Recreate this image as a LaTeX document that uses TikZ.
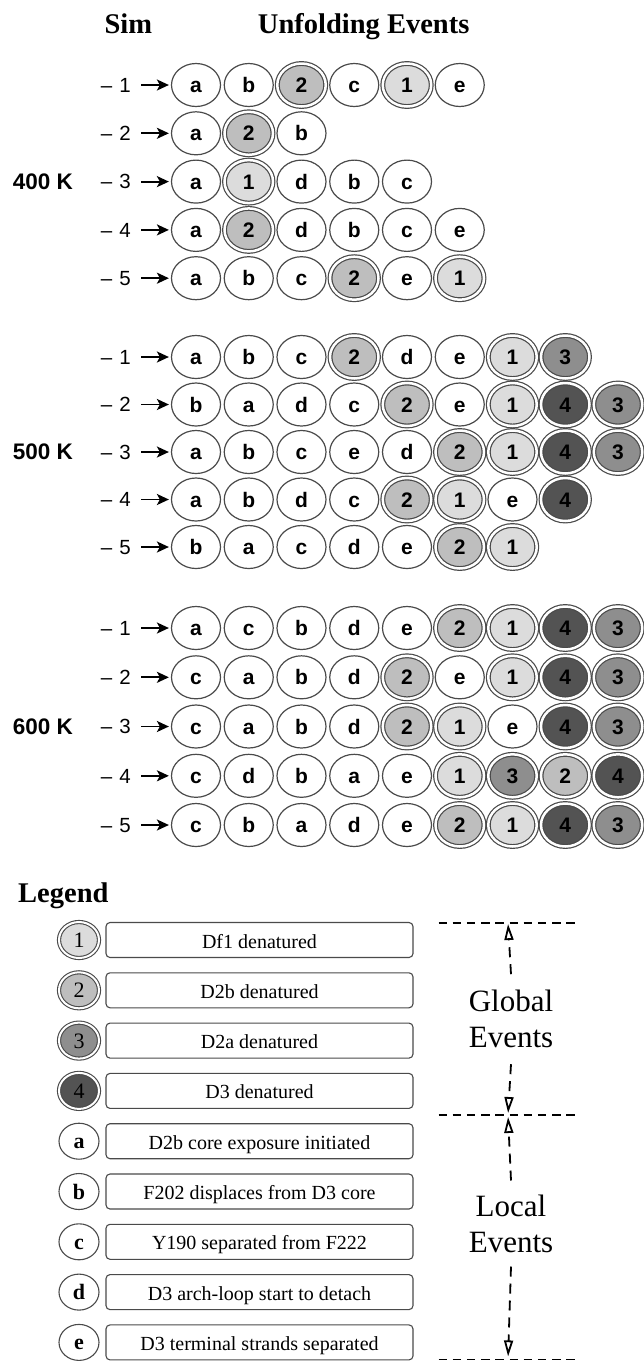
\documentclass[tikz,border=0pt]{standalone}
\usepackage{fontspec}
\setmainfont{Liberation Serif}
\newfontfamily\arialf{Liberation Sans}
\usetikzlibrary{shapes.geometric,arrows.meta}
\definecolor{ln}{HTML}{4A4A4A}
\definecolor{g1}{HTML}{DCDCDC}
\definecolor{g2}{HTML}{BEBEBE}
\definecolor{g3}{HTML}{8E8E8E}
\definecolor{g4}{HTML}{535353}
\tikzset{
  evbase/.style={ellipse, draw=ln, line width=1.2pt, inner sep=0pt, minimum width=49pt, minimum height=43pt, fill=white, font=\arialf\bfseries\fontsize{21}{21}\selectfont, text height=15pt, text depth=0pt},
  ev-a/.style={evbase}, ev-b/.style={evbase}, ev-c/.style={evbase}, ev-d/.style={evbase}, ev-e/.style={evbase},
  evdbl/.style={evbase, minimum width=48.5pt, minimum height=43pt, double=white, double distance=2.5pt},
  ev-1/.style={evdbl, fill=g1}, ev-2/.style={evdbl, fill=g2}, ev-3/.style={evdbl, fill=g3}, ev-4/.style={evdbl, fill=g4},
  simlab/.style={anchor=east, inner sep=0pt, font=\arialf\fontsize{20.5}{20.5}\selectfont, text height=14.5pt, text depth=0pt},
  simarr/.style={draw=black, line width=1.9pt, -{Stealth[length=12pt,width=11pt,inset=3pt]}, shorten <=10pt, shorten >=2pt},
  grplab/.style={anchor=west, inner sep=0pt, font=\arialf\bfseries\fontsize{22.5}{22.5}\selectfont},
  head/.style={anchor=base, inner sep=0pt, font=\bfseries\fontsize{28.5}{28.5}\selectfont},
  legc/.style={ellipse, draw=ln, line width=1.1pt, inner sep=0pt, minimum width=40pt, minimum height=36pt, fill=white, font=\fontsize{22}{22}\selectfont, text height=15pt, text depth=0pt},
  legl/.style={legc, font=\bfseries\fontsize{22}{22}\selectfont},
  legd/.style={legc, double=white, double distance=2pt},
  leg-1/.style={legd, fill=g1}, leg-2/.style={legd, fill=g2}, leg-3/.style={legd, fill=g3}, leg-4/.style={legd, fill=g4},
  legbox/.style={draw=ln, line width=1.1pt, rounded corners=4pt, minimum width=307pt, minimum height=35pt, inner sep=0pt, font=\fontsize{20}{20}\selectfont, text height=16pt, text depth=0pt},
  evtext/.style={align=center, inner xsep=0pt, font=\fontsize{31}{35.8}\selectfont},
  garr/.style={draw=black, line width=1.8pt, dash pattern=on 10pt off 7pt, -{Triangle[open,length=16pt,width=9pt]}},
  hdash/.style={draw=black, line width=1.8pt, dash pattern=on 8.5pt off 5.7pt}
}
\newcommand\simrow[4]{%
  \node[simlab] (#1l) at (131,#2) {–\hspace{7pt}#3};
  \foreach \x [count=\i from 0] in {#4} {\node[ev-\x] (#1c\i) at ({196+52.75*\i},#2) {\x};}
  \draw[simarr] (#1l.east) -- (#1c0.west);
}
\newcommand\legrow[5]{%
  \node[#3] (#1c) at (79,#2) {#4};
  \node[legbox] (#1b) at (259.5,#2) {#5};
}
\begin{document}
\begin{tikzpicture}[x=1pt,y=-1pt]
\fill[white] (0,0) rectangle (643,1361);
\useasboundingbox (0,0) rectangle (643,1361);
% headings
\node[head] (hsim) at (128.3,33.3) {Sim};
\node[head] (hunf) at (363.7,33.3) {Unfolding Events};
% 400 K
\simrow{sa}{85}{1}{a,b,2,c,1,e}
\simrow{sb}{133.3}{2}{a,2,b}
\simrow{sc}{181.6}{3}{a,1,d,b,c}
\simrow{sd}{229.9}{4}{a,2,d,b,c,e}
\simrow{se}{278.2}{5}{a,b,c,2,e,1}
\node[grplab] (k400) at (12.7,181.6) {400 K};
% 500 K
\simrow{ta}{357}{1}{a,b,c,2,d,e,1,3}
\simrow{tb}{404.5}{2}{b,a,d,c,2,e,1,4,3}
\simrow{tc}{452}{3}{a,b,c,e,d,2,1,4,3}
\simrow{td}{499.5}{4}{a,b,d,c,2,1,e,4}
\simrow{te}{547}{5}{b,a,c,d,e,2,1}
\node[grplab] (k500) at (12.7,452) {500 K};
% 600 K
\simrow{ua}{628}{1}{a,c,b,d,e,2,1,4,3}
\simrow{ub}{677.3}{2}{c,a,b,d,2,e,1,4,3}
\simrow{uc}{726.5}{3}{c,a,b,d,2,1,e,4,3}
\simrow{ud}{775.8}{4}{c,d,b,a,e,1,3,2,4}
\simrow{ue}{825}{5}{c,b,a,d,e,2,1,4,3}
\node[grplab] (k600) at (12.7,726.5) {600 K};
% legend
\node[head, anchor=base west] (hleg) at (18,902) {Legend};
\legrow{l1}{940}{leg-1}{1}{Df1 denatured}
\legrow{l2}{990.3}{leg-2}{2}{D2b denatured}
\legrow{l3}{1040.6}{leg-3}{3}{D2a denatured}
\legrow{l4}{1090.9}{leg-4}{4}{D3 denatured}
\legrow{la}{1141.2}{legl}{a}{D2b core exposure initiated}
\legrow{lb}{1191.5}{legl}{b}{F202 displaces from D3 core}
\legrow{lc}{1241.8}{legl}{c}{Y190 separated from F222}
\legrow{ld}{1292.1}{legl}{d}{D3 arch-loop start to detach}
\legrow{le}{1342.4}{legl}{e}{D3 terminal strands separated}
% global / local brackets
\coordinate (gt) at (508,922.7);
\coordinate (gm) at (508,1115);
\coordinate (gb) at (508,1359.4);
\coordinate (gtl) at (438.5,922.7); \coordinate (gtr) at (580,922.7);
\coordinate (gml) at (438.5,1115); \coordinate (gmr) at (580,1115);
\coordinate (gbl) at (438.5,1359.4); \coordinate (gbr) at (580,1359.4);
\draw[hdash] (gtl) -- (gtr);
\draw[hdash] (gml) -- (gmr);
\draw[hdash] (gbl) -- (gbr);
\node[evtext, inner ysep=16pt] (glob) at (511,1019.2) {Global\\Events};
\node[evtext, inner ysep=14pt] (loc) at (511,1223.5) {Local\\Events};
\draw[garr, shorten >=1.3pt] (glob.north) -- (gt);
\draw[garr, shorten >=2pt] (glob.south) -- (gm);
\draw[garr, shorten >=2pt] (loc.north) -- (gm);
\draw[garr, shorten >=3pt] (loc.south) -- (gb);
\end{tikzpicture}
\end{document}
